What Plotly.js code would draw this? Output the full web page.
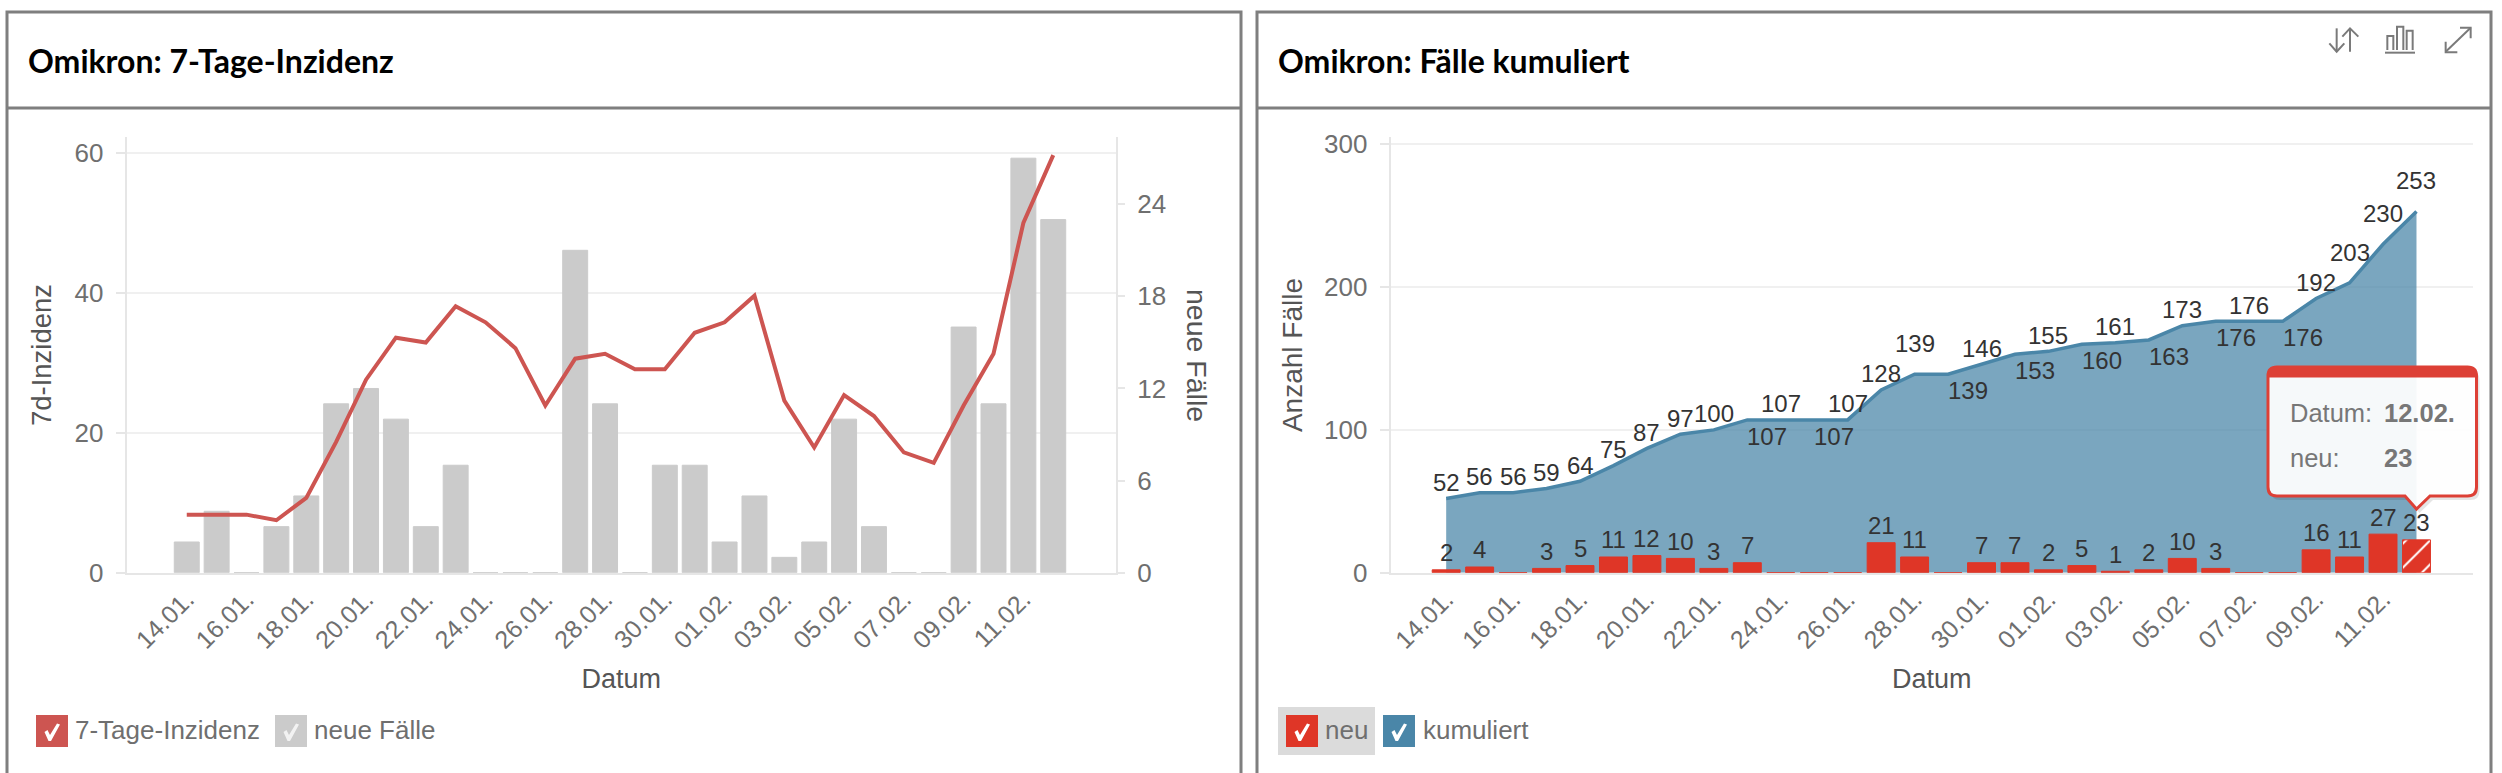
<!DOCTYPE html>
<html>
<head>
<meta charset="utf-8">
<script src="https://cdn.plot.ly/plotly-3.0.1.min.js"></script>
<style>html,body{margin:0;padding:0;background:#fff;overflow:hidden}#c{width:2502px;height:773px}</style>
</head>
<body>
<div id="c"></div>
<script>
const dates = ["14.01.","15.01.","16.01.","17.01.","18.01.","19.01.","20.01.","21.01.","22.01.","23.01.","24.01.","25.01.","26.01.","27.01.","28.01.","29.01.","30.01.","31.01.","01.02.","02.02.","03.02.","04.02.","05.02.","06.02.","07.02.","08.02.","09.02.","10.02.","11.02.","12.02."];
const shownDates = ["14.01.","16.01.","18.01.","20.01.","22.01.","24.01.","26.01.","28.01.","30.01.","01.02.","03.02.","05.02.","07.02.","09.02.","11.02."];
const incidence = [8.3,8.3,8.3,7.5,10.7,18.7,27.6,33.6,32.9,38.1,35.8,32.1,23.9,30.6,31.3,29.1,29.1,34.3,35.8,39.6,24.6,17.9,25.4,22.4,17.2,15.7,23.9,31.3,50.0,59.7];
const newCases = [2,4,0,3,5,11,12,10,3,7,0,0,0,21,11,0,7,7,2,5,1,2,10,3,0,0,16,11,27,23];
const cumulative = [52,56,56,59,64,75,87,97,100,107,107,107,107,128,139,139,146,153,155,160,161,163,173,176,176,176,192,203,230,253];
const leftTicks = [0,20,40,60];
const rightTicks = [0,6,12,18,24];
const cumTicks = [0,100,200,300];

const W = 2502, H = 773;
const fx = x => x / W, fy = y => 1 - y / H;
const P = (x, y) => fx(x) + ',' + fy(y);
const path = pts => 'M' + pts.map(p => P(p[0], p[1])).join('L');

const TICK = '#6f6f6f', AXIS = '#e6e6e6', GRID = '#f0f0f0', TITLE = '#555555';
const FONT = 'Liberation Sans';
const RED = '#df3627', CRED = '#cd5551', GREY = '#cbcbcb', BLUE = '#4a86a8';

const traces = [
  {type:'bar', name:'neue Fälle', x:dates, y:newCases, xaxis:'x', yaxis:'y',
   marker:{color:GREY, line:{color:GREY, width:1}}, hoverinfo:'skip'},
  {type:'scatter', mode:'lines', name:'7-Tage-Inzidenz', x:dates, y:incidence, xaxis:'x', yaxis:'y2',
   line:{color:CRED, width:4}, hoverinfo:'skip'},
  {type:'scatter', mode:'lines', name:'kumuliert', x:dates, y:cumulative, xaxis:'x2', yaxis:'y3',
   fill:'tozeroy', fillcolor:'rgba(74,134,168,0.735)', line:{color:BLUE, width:3.5}, hoverinfo:'skip'},
  {type:'bar', name:'neu', x:dates, y:newCases, xaxis:'x2', yaxis:'y4',
   marker:{color:RED, line:{color:RED, width:1},
     pattern:{shape:dates.map((d,i)=> i===dates.length-1 ? '/' : ''), fgcolor:'#ffffff', bgcolor:RED, size:17, solidity:0.12}},
   hoverinfo:'skip'}
];

const xCommon = {type:'category', categoryorder:'array', categoryarray:dates, tickmode:'array', tickvals:shownDates, ticktext:shownDates,
  tickangle:-45, tickfont:{family:FONT,size:25,color:TICK}, showgrid:false, zeroline:false, showline:true, linecolor:AXIS, linewidth:2, ticks:'',
  title:{text:'Datum', font:{family:FONT,size:27,color:TITLE}, standoff:16}};

const layout = {
  width:W, height:H, paper_bgcolor:'#fff', plot_bgcolor:'rgba(0,0,0,0)', showlegend:false, barmode:'overlay',
  margin:{l:0,r:0,t:0,b:0,pad:0}, font:{family:FONT},
  xaxis:Object.assign({}, xCommon, {domain:[fx(126.7),fx(1116)], range:[-2.01,31.10], anchor:'y'}),
  yaxis:{domain:[fy(572.7),fy(137.3)], range:[0,28.36], side:'right', anchor:'x', tickmode:'array', tickvals:rightTicks,
    showgrid:false, zeroline:false, showline:true, linecolor:AXIS, linewidth:2, ticks:'outside', ticklen:7, tickwidth:2, tickcolor:AXIS,
    tickfont:{family:FONT,size:26,color:TICK}, ticklabelstandoff:7},
  yaxis2:{domain:[fy(572.7),fy(137.3)], range:[0,62.25], side:'left', overlaying:'y', anchor:'x', tickmode:'array', tickvals:leftTicks,
    showgrid:true, gridcolor:GRID, gridwidth:2, zeroline:false, showline:true, linecolor:AXIS, linewidth:2, ticks:'outside', ticklen:9, tickwidth:2, tickcolor:AXIS,
    tickfont:{family:FONT,size:26,color:TICK}, ticklabelstandoff:7,
    title:{text:'7d-Inzidenz', font:{family:FONT,size:27.5,color:TITLE}, standoff:15}},
  xaxis2:Object.assign({}, xCommon, {domain:[fx(1390.7),fx(2472.7)], range:[-1.658,30.68], anchor:'y3'}),
  yaxis3:{domain:[fy(572.7),fy(137.3)], range:[0,304.9], side:'left', anchor:'x2', tickmode:'array', tickvals:cumTicks,
    showgrid:true, gridcolor:GRID, gridwidth:2, zeroline:false, showline:true, linecolor:AXIS, linewidth:2, ticks:'outside', ticklen:9, tickwidth:2, tickcolor:AXIS,
    tickfont:{family:FONT,size:26,color:TICK}, ticklabelstandoff:7,
    title:{text:'Anzahl Fälle', font:{family:FONT,size:28,color:TITLE}, standoff:13}},
  yaxis4:{domain:[fy(572.7),fy(137.3)], range:[0,304.9], overlaying:'y3', anchor:'x2', side:'left', visible:false},
  bargap:0.165,
  shapes:[], annotations:[]
};

const shapes = layout.shapes, ann = layout.annotations;
function pshape(d, o){ shapes.push(Object.assign({type:'path', xref:'paper', yref:'paper', path:d, line:{width:0}}, o)); }
function ptext(x, y, t, o){ ann.push(Object.assign({xref:'paper', yref:'paper', x:fx(x), y:fy(y), text:t, showarrow:false, xanchor:'left', yanchor:'middle',
  font:{family:FONT,size:26,color:TICK}}, o||{})); }

// panels
[[7,1241],[1257,2491]].forEach(([a,b])=>{
  pshape(path([[a,773],[a,12],[b,12],[b,773]]), {line:{color:'#7f7f7f',width:3}});
  pshape(path([[a,108],[b,108]]), {line:{color:'#7f7f7f',width:3}});
});
const TF = {family:'Lato', size:32, color:'#000000'};
ptext(26, 60.5, '<b>Omikron: 7-Tage-Inzidenz</b>', {font:TF});
ptext(1276, 60.5, '<b>Omikron: Fälle kumuliert</b>', {font:TF});
ptext(1197, 355, 'neue Fälle', {xanchor:'center', textangle:90, font:{family:FONT,size:28.5,color:TITLE}});

// toolbar icons
const iconLine = {color:'#7a7a7a', width:2};
const ic = pts => path(pts.map(p=>[2300+p[0]/3, p[1]/3]));
[
 [[110,85],[110,155]], [[88,130],[110,155],[133,130]],
 [[150,155],[150,85]], [[127,110],[150,85],[175,110]],
 [[255,158],[345,158]],
 [[262,150],[262,108],[280,108],[280,150]], [[291,150],[291,80],[310,80],[310,150]], [[320,150],[320,92],[338,92],[338,150]],
 [[437,155],[512,83]], [[480,83],[512,83],[512,115]], [[437,125],[437,157],[472,157]]
].forEach(p=>pshape(ic(p), {line:iconLine}));

// legends
const box = (x,color,alpha) => {
  pshape(path([[x,715],[x+32,715],[x+32,747],[x,747]])+'Z', {fillcolor:color});
  const ck = [[8.5,17],[11.5,15],[14,20],[21,8.5],[24,9.5],[15,26],[12.5,26]].map(p=>[x+p[0],715+p[1]]);
  pshape(path(ck)+'Z', {fillcolor:alpha||'#ffffff'});
};
pshape(path([[1278,707],[1375,707],[1375,755],[1278,755]])+'Z', {fillcolor:'#dbdbdb'});
box(36, CRED); ptext(73, 730, '7-Tage-Inzidenz');
box(275, GREY, 'rgba(255,255,255,0.75)'); ptext(312, 730, 'neue Fälle');
box(1286, RED); ptext(1323, 730, 'neu');
box(1383, BLUE); ptext(1420.5, 730, 'kumuliert');

// data labels
const labelDy = cumulative.map(()=>16);
const labelDx = cumulative.map(()=>0);
[14,27,28,29].forEach(i=>labelDy[i]=30.5);
[9,11,15,17,19,21,23,25].forEach(i=>{labelDy[i]=-16.5; labelDx[i]=20;});
const LB = {family:FONT,size:24,color:'#333333'};
cumulative.forEach((v,i)=>ann.push({xref:'x2',yref:'y3',x:dates[i],y:v,text:String(v),showarrow:false,xshift:labelDx[i],yshift:labelDy[i],yanchor:'middle',xanchor:'center',font:LB}));
newCases.forEach((v,i)=>{ if(v>0) ann.push({xref:'x2',yref:'y3',x:dates[i],y:v,text:String(v),showarrow:false,yshift:17,yanchor:'middle',xanchor:'center',font:LB}); });

// tooltip
const tipPath = (dx,dy)=>{
  const L=2268+dx,R=2476.5+dx,T=367+dy,B=496+dy,r=9,q=(a,b)=>P(a,b);
  return 'M'+q(L+r,T)+'L'+q(R-r,T)+'Q'+q(R,T)+' '+q(R,T+r)+'L'+q(R,B-r)+'Q'+q(R,B)+' '+q(R-r,B)+
    'L'+q(2430+dx,B)+'L'+q(2416.5+dx,509+dy)+'L'+q(2405+dx,B)+'L'+q(L+r,B)+'Q'+q(L,B)+' '+q(L,B-r)+'L'+q(L,T+r)+'Q'+q(L,T)+' '+q(L+r,T)+'Z';
};
pshape(tipPath(3,4), {fillcolor:'rgba(0,0,0,0.10)', layer:'above'});
pshape(tipPath(0,0), {fillcolor:'rgba(255,255,255,0.94)', line:{color:'#dd4036',width:3}});
pshape('M'+P(2268,377)+'L'+P(2268,376)+'Q'+P(2268,367)+' '+P(2277,367)+'L'+P(2467.5,367)+'Q'+P(2476.5,367)+' '+P(2476.5,376)+'L'+P(2476.5,377)+'Z', {fillcolor:'#dd4036', line:{color:'#dd4036',width:1}});
const TT = {family:FONT,size:25.5,color:'#777777'};
ptext(2288, 413, 'Datum:', {font:TT});
ptext(2382, 413, '<b>12.02.</b>', {font:TT});
ptext(2288, 458, 'neu:', {font:TT});
ptext(2382, 458, '<b>23</b>', {font:TT});

Plotly.newPlot('c', traces, layout, {displayModeBar:false, staticPlot:true, responsive:false});
</script>
</body>
</html>
